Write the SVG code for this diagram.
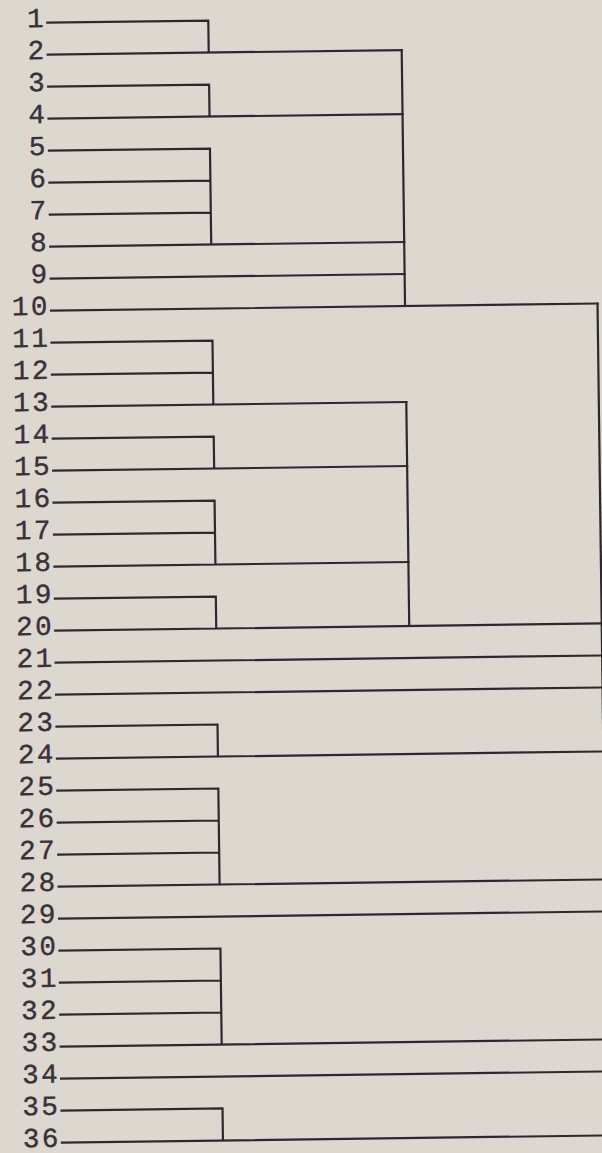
<svg xmlns="http://www.w3.org/2000/svg" width="602" height="1153" viewBox="0 0 602 1153">
<style>
.lbl{font-family:"Liberation Mono","DejaVu Sans Mono",monospace;font-size:27.5px;fill:#3a3038;stroke:#3a3038;stroke-width:0.4;text-anchor:end;letter-spacing:2.5px}
.c{fill:none;stroke:#2f2730;stroke-width:2.2;stroke-linecap:square}
</style>
<rect x="0" y="0" width="602" height="1153" fill="#dcd8cf"/>
<g transform="rotate(-0.75)">
<g id="connectors" class="c">
<path d="M47 23.3H208V55.3M47 55.3H401"/>
<path d="M47 87.3H208V119.3M47 119.3H401"/>
<path d="M47 151.3H208V247.3M47 183.3H208M47 215.3H208M47 247.3H401"/>
<path d="M47 279.3H401"/>
<path d="M401 55.3V311.3M47 311.3H593.5"/>
<path d="M47 343.3H208V407.3M47 375.3H208M47 407.3H401"/>
<path d="M47 439.3H208V471.3M47 471.3H401"/>
<path d="M47 503.3H208V567.3M47 535.3H208M47 567.3H401"/>
<path d="M47 599.3H208V631.3M47 631.3H593.5"/>
<path d="M401 407.3V631.3"/>
<path d="M47 663.3H593.5M47 695.3H593.5"/>
<path d="M47 727.3H208V759.3M47 759.3H593.5"/>
<path d="M47 791.3H208V887.3M47 823.3H208M47 855.3H208M47 887.3H593.5"/>
<path d="M47 919.3H593.5"/>
<path d="M47 951.3H208V1047.3M47 983.3H208M47 1015.3H208M47 1047.3H593.5"/>
<path d="M47 1079.3H593.5"/>
<path d="M47 1111.3H208V1143.3M47 1143.3H593.5"/>
<path d="M593.5 311.3V1143.3"/>
</g>
<g id="n1"><text class="lbl" x="46" y="27.5">1</text></g>
<g id="n2"><text class="lbl" x="46" y="59.5">2</text></g>
<g id="n3"><text class="lbl" x="46" y="91.5">3</text></g>
<g id="n4"><text class="lbl" x="46" y="123.5">4</text></g>
<g id="n5"><text class="lbl" x="46" y="155.5">5</text></g>
<g id="n6"><text class="lbl" x="46" y="187.5">6</text></g>
<g id="n7"><text class="lbl" x="46" y="219.5">7</text></g>
<g id="n8"><text class="lbl" x="46" y="251.5">8</text></g>
<g id="n9"><text class="lbl" x="46" y="283.5">9</text></g>
<g id="n10"><text class="lbl" x="46" y="315.5">10</text></g>
<g id="n11"><text class="lbl" x="46" y="347.5">11</text></g>
<g id="n12"><text class="lbl" x="46" y="379.5">12</text></g>
<g id="n13"><text class="lbl" x="46" y="411.5">13</text></g>
<g id="n14"><text class="lbl" x="46" y="443.5">14</text></g>
<g id="n15"><text class="lbl" x="46" y="475.5">15</text></g>
<g id="n16"><text class="lbl" x="46" y="507.5">16</text></g>
<g id="n17"><text class="lbl" x="46" y="539.5">17</text></g>
<g id="n18"><text class="lbl" x="46" y="571.5">18</text></g>
<g id="n19"><text class="lbl" x="46" y="603.5">19</text></g>
<g id="n20"><text class="lbl" x="46" y="635.5">20</text></g>
<g id="n21"><text class="lbl" x="46" y="667.5">21</text></g>
<g id="n22"><text class="lbl" x="46" y="699.5">22</text></g>
<g id="n23"><text class="lbl" x="46" y="731.5">23</text></g>
<g id="n24"><text class="lbl" x="46" y="763.5">24</text></g>
<g id="n25"><text class="lbl" x="46" y="795.5">25</text></g>
<g id="n26"><text class="lbl" x="46" y="827.5">26</text></g>
<g id="n27"><text class="lbl" x="46" y="859.5">27</text></g>
<g id="n28"><text class="lbl" x="46" y="891.5">28</text></g>
<g id="n29"><text class="lbl" x="46" y="923.5">29</text></g>
<g id="n30"><text class="lbl" x="46" y="955.5">30</text></g>
<g id="n31"><text class="lbl" x="46" y="987.5">31</text></g>
<g id="n32"><text class="lbl" x="46" y="1019.5">32</text></g>
<g id="n33"><text class="lbl" x="46" y="1051.5">33</text></g>
<g id="n34"><text class="lbl" x="46" y="1083.5">34</text></g>
<g id="n35"><text class="lbl" x="46" y="1115.5">35</text></g>
<g id="n36"><text class="lbl" x="46" y="1147.5">36</text></g>
</g>
</svg>
